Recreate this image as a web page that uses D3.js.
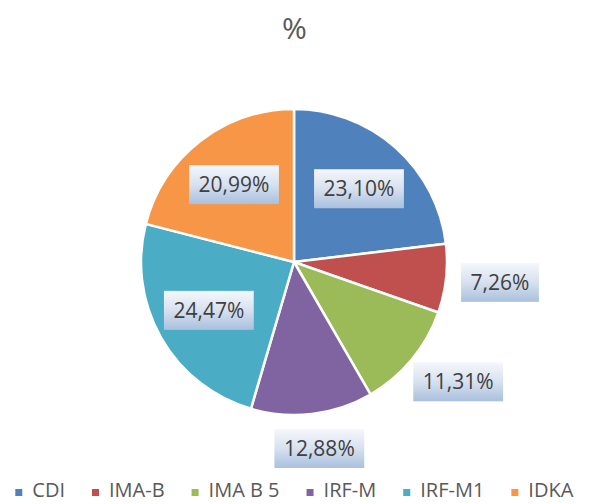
<!DOCTYPE html>
<head>
    <meta charset="utf-8">
    <script src="https://d3js.org/d3.v7.min.js"></script>
    <style>
        body {
            margin: 0;
            background: #fff;
            font-family: "Open Sans", sans-serif;
        }
        .slice path {
            stroke: #fff;
            stroke-width: 2.5;
        }
        .lbl text {
            font-size: 21px;
            fill: #404040;
        }
        .legend text {
            font-size: 20px;
            fill: #595959;
        }
    </style>
</head>
<body>
<script>
    var categories = ["CDI", "IMA-B", "IMA B 5", "IRF-M", "IRF-M1", "IDKA"];
    var values = [23.10, 7.26, 11.31, 12.88, 24.47, 20.99];
    var colors = ["#4f81bd", "#c0504d", "#9bbb59", "#8064a2", "#4bacc6", "#f79646"];
    var title = "%";

    var width = 589, height = 504,
        cx = 294, cy = 262, radius = 153;

    var svg = d3.select("body").append("svg")
        .attr("width", width)
        .attr("height", height);

    var defs = svg.append("defs");
    var grad = defs.append("linearGradient")
        .attr("id", "lblGrad")
        .attr("x1", 0).attr("y1", 0).attr("x2", 0).attr("y2", 1);
    grad.append("stop").attr("offset", "0%").attr("stop-color", "#f5f7fb");
    grad.append("stop").attr("offset", "50%").attr("stop-color", "#d7e1ef");
    grad.append("stop").attr("offset", "100%").attr("stop-color", "#a9c0de");

    svg.append("text")
        .attr("x", width / 2)
        .attr("y", 39)
        .attr("text-anchor", "middle")
        .style("font-size", "30px")
        .style("fill", "#595959")
        .text(title);

    var data = categories.map(function(c, i) {
        return { name: c, value: values[i], color: colors[i] };
    });

    var pie = d3.pie().sort(null).value(function(d) { return d.value; });
    var arc = d3.arc().innerRadius(0).outerRadius(radius);
    var arcs = pie(data);

    var g = svg.append("g").attr("transform", "translate(" + cx + "," + cy + ")");

    g.selectAll("g.slice")
        .data(arcs)
        .enter().append("g")
        .attr("class", "slice")
        .append("path")
        .attr("d", arc)
        .style("fill", function(d) { return d.data.color; });

    var fmt = function(v) { return v.toFixed(2).replace(".", ",") + "%"; };

    var lbls = g.selectAll("g.lbl")
        .data(arcs)
        .enter().append("g")
        .attr("class", "lbl");

    lbls.each(function(d) {
        var sel = d3.select(this);
        var t = sel.append("text")
            .attr("text-anchor", "middle")
            .attr("dy", "0.36em")
            .text(fmt(d.data.value));
        var w = t.node().getComputedTextLength() + 19, h = 39;
        var a = (d.startAngle + d.endAngle) / 2;
        var s = Math.sin(a), c = -Math.cos(a);
        var x, y;
        if (d.data.value < 15) {
            // outside label, box pushed away from the pie edge
            var ra = radius * 1.1;
            x = ra * s + (w / 2) * s;
            y = ra * c + (h / 2) * c;
        } else {
            var ri = radius * 0.64;
            x = ri * s;
            y = ri * c;
        }
        sel.attr("transform", "translate(" + x + "," + y + ")");
        sel.insert("rect", "text")
            .attr("x", -w / 2).attr("y", -h / 2)
            .attr("width", w).attr("height", h)
            .style("fill", "url(#lblGrad)");
    });

    // legend
    var legend = svg.append("g").attr("class", "legend");
    var items = legend.selectAll("g.item")
        .data(data)
        .enter().append("g")
        .attr("class", "item");
    items.append("rect")
        .attr("width", 7).attr("height", 7)
        .attr("y", -8)
        .style("fill", function(d) { return d.color; });
    items.append("text")
        .attr("x", 17)
        .text(function(d) { return d.name; });

    var gap = 27, pos = 0;
    items.each(function() {
        var bw = this.getBBox().width;
        d3.select(this).attr("data-x", pos);
        pos += bw + gap;
    });
    var total = pos - gap;
    var x0 = (width - total) / 2;
    items.attr("transform", function() {
        return "translate(" + (x0 + (+this.getAttribute("data-x"))) + ",497)";
    });
</script>
</body>
